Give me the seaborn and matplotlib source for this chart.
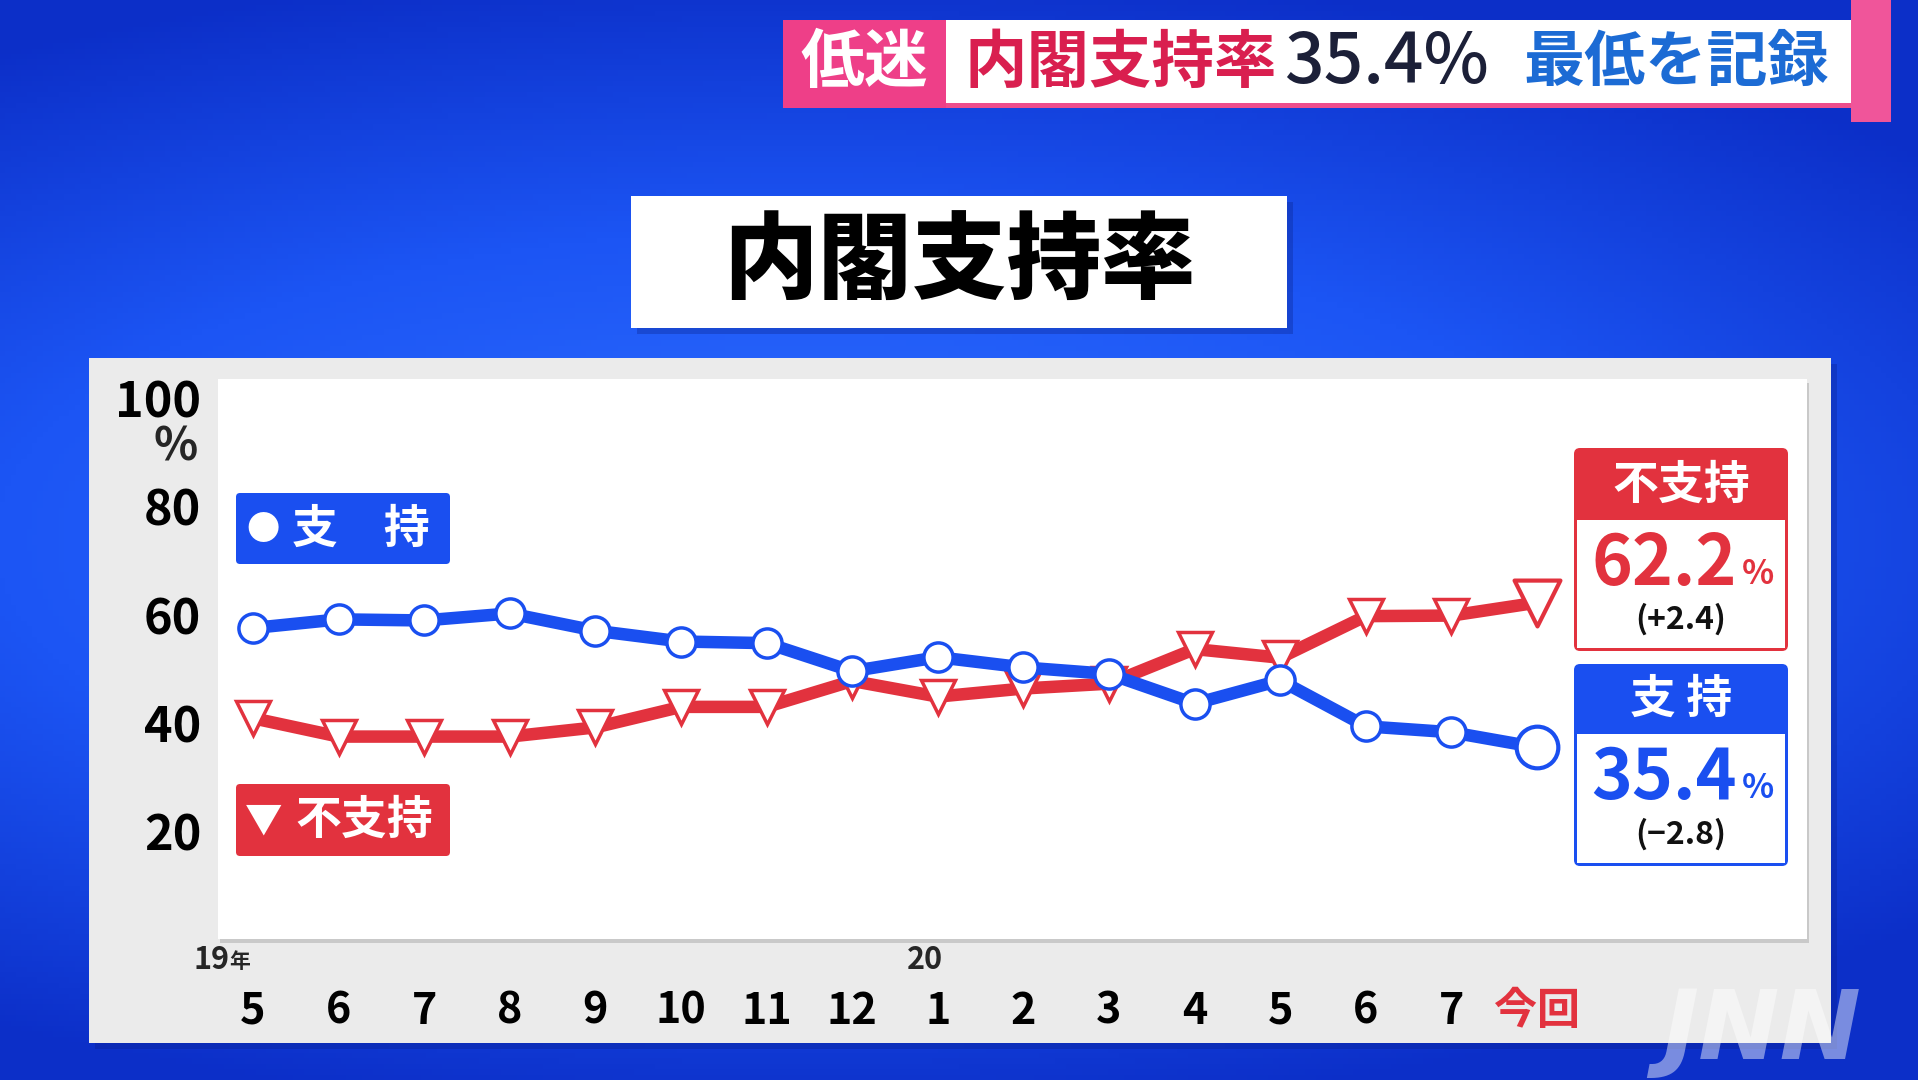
import numpy as np
import pandas as pd
import matplotlib
matplotlib.use('Agg')
import matplotlib.pyplot as plt
import seaborn as sns
from matplotlib.patches import Rectangle, FancyBboxPatch
from matplotlib.colors import LinearSegmentedColormap
from matplotlib.transforms import blended_transform_factory

# data: JNN 内閣支持率 (19年5月 -> 今回)
bulan = ['5', '6', '7', '8', '9', '10', '11', '12', '1', '2', '3', '4', '5', '6', '7', '今回']
shiji = [57.5, 59.1, 58.9, 60.2, 57.0, 55.0, 54.7, 49.5, 52.1, 50.2, 49.0, 43.5, 47.8, 39.3, 38.2, 35.4]
fushiji = [40.8, 37.4, 37.4, 37.4, 39.1, 42.9, 42.9, 47.7, 44.8, 46.3, 47.2, 53.6, 52.0, 59.7, 59.8, 62.2]
y_ticks = [20, 40, 60, 80, 100]

BIRU = '#1a4ff0'
MERAH = '#e2323e'

sns.set_theme(style='white')
plt.rcParams['font.family'] = ['Noto Sans CJK JP', 'DejaVu Sans']

W, H = 1918, 1080
fig = plt.figure(figsize=(W / 100, H / 100), dpi=100)


def kotak(x, y, w, h):
    # ubah koordinat piksel (dari kiri atas) ke koordinat figure
    return [x / W, 1 - (y + h) / H, w / W, h / H]


# ---------------- latar belakang biru ----------------
bg = fig.add_axes([0, 0, 1, 1], zorder=0)
yy, xx = np.mgrid[0:1:200j, 0:1:360j]
jarak = np.sqrt(((xx - 0.42) / 1.1) ** 2 + ((yy - 0.5) / 0.75) ** 2)
cmap_bg = LinearSegmentedColormap.from_list('bg', ['#2d6cff', '#1c55f4', '#0c2fc8'])
bg.imshow(jarak, cmap=cmap_bg, extent=[0, W, H, 0], aspect='auto', vmin=0.05, vmax=0.72)
bg.set_xlim(0, W)
bg.set_ylim(H, 0)
bg.axis('off')

# banner atas
bg.add_patch(Rectangle((946, 20), 907, 88, fc='white', ec='none'))
bg.add_patch(Rectangle((946, 103), 907, 5, fc='#ee4d8c', ec='none'))
bg.add_patch(Rectangle((783, 20), 163, 88, fc='#ee3f88', ec='none'))
bg.add_patch(Rectangle((1851, 0), 40, 122, fc='#f0559a', ec='none'))
bg.text(864, 63, '低迷', color='white', fontsize=46, fontweight='bold', ha='center', va='center')
bg.text(964, 63, '内閣支持率', color='#d91f4f', fontsize=45, fontweight='bold', ha='left', va='center')
bg.text(1284, 63, f'{shiji[-1]:.1f}%', color='#1c2038', fontsize=50, fontweight='medium', ha='left', va='center')
bg.text(1523, 63, '最低を記録', color='#1c6bd4', fontsize=44, fontweight='bold', ha='left', va='center')

# kotak judul
bg.add_patch(Rectangle((637, 202), 656, 132, fc='#0b2590', ec='none', alpha=0.35))
bg.add_patch(Rectangle((631, 196), 656, 132, fc='white', ec='none'))
bg.text(959, 264, '内閣支持率', color='black', fontsize=68, fontweight='heavy', ha='center', va='center')

# panel abu-abu
bg.add_patch(Rectangle((95, 364), 1742, 685, fc='#0a2090', ec='none', alpha=0.35))
bg.add_patch(Rectangle((89, 358), 1742, 685, fc='#ebebeb', ec='none'))
bg.add_patch(Rectangle((220, 383), 1589, 560, fc='#c9c9c9', ec='none'))

# ---------------- grafik garis ----------------
ax = fig.add_axes(kotak(218, 379, 1589, 559.6), zorder=1)
ax.set_facecolor('white')
df = pd.DataFrame({'idx': range(len(bulan)), '支持': shiji, '不支持': fushiji})
n = len(df)

sns.lineplot(data=df, x='idx', y='不支持', ax=ax, color=MERAH, lw=9, marker='v',
             markersize=24, markerfacecolor='white', markeredgecolor=MERAH,
             markeredgewidth=2.5, markevery=list(range(n - 1)), zorder=2)
sns.scatterplot(data=df.iloc[-1:], x='idx', y='不支持', ax=ax, marker='v', s=33 ** 2,
                color='white', edgecolor=MERAH, linewidth=3, zorder=3)
sns.lineplot(data=df, x='idx', y='支持', ax=ax, color=BIRU, lw=9, marker='o',
             markersize=21, markerfacecolor='white', markeredgecolor=BIRU,
             markeredgewidth=2.5, markevery=list(range(n - 1)), zorder=4)
sns.scatterplot(data=df.iloc[-1:], x='idx', y='支持', ax=ax, marker='o', s=30 ** 2,
                color='white', edgecolor=BIRU, linewidth=3, zorder=5)

ax.set_xlim(-0.409, 18.154)
ax.set_ylim(0, 103.6)
ax.set_xlabel('')
ax.set_ylabel('')
for s in ax.spines.values():
    s.set_visible(False)

ax.set_xticks(range(n))
ax.set_xticklabels(bulan, fontsize=31, fontweight='bold', color='black')
ax.get_xticklabels()[-1].set_color(MERAH)
ax.set_yticks(y_ticks)
ax.set_yticklabels([str(v) for v in y_ticks], fontsize=35, fontweight='bold', color='black')
ax.tick_params(axis='x', length=0, pad=36)
ax.tick_params(axis='y', length=0, pad=12)

tr = blended_transform_factory(ax.transAxes, ax.transData)
ax.text(-0.013, 91.0, '%', transform=tr, fontsize=33, fontweight='bold', ha='right', va='center')
ax.text(-0.28, -4.0, '19', fontsize=22, fontweight='bold', ha='right', va='center', clip_on=False)
ax.text(-0.28, -4.3, '年', fontsize=15, fontweight='bold', ha='left', va='center', clip_on=False)
ax.text(7.85, -4.0, '20', fontsize=22, fontweight='bold', ha='center', va='center', clip_on=False)

# ---------------- lapisan depan: legenda & kotak nilai ----------------
fg = fig.add_axes([0, 0, 1, 1], zorder=5)
fg.patch.set_alpha(0)
fg.set_xlim(0, W)
fg.set_ylim(H, 0)
fg.axis('off')

fg.add_patch(FancyBboxPatch((236, 493), 214, 71, boxstyle='round,pad=0,rounding_size=4', fc=BIRU, ec='none'))
fg.text(263, 530, '●', color='white', fontsize=24, fontweight='bold', ha='center', va='center')
fg.text(361, 530, '支　持', color='white', fontsize=33, fontweight='bold', ha='center', va='center')
fg.add_patch(FancyBboxPatch((236, 784), 214, 72, boxstyle='round,pad=0,rounding_size=4', fc=MERAH, ec='none'))
fg.text(264, 821, '▼', color='white', fontsize=27, fontweight='bold', ha='center', va='center')
fg.text(364, 821, '不支持', color='white', fontsize=33, fontweight='bold', ha='center', va='center')

# kotak 不支持
fg.add_patch(FancyBboxPatch((1574, 448), 214, 203, boxstyle='round,pad=0,rounding_size=6', fc=MERAH, ec='none'))
fg.add_patch(Rectangle((1577, 520), 208, 128, fc='white', ec='none'))
fg.text(1681, 486, '不支持', color='white', fontsize=33, fontweight='bold', ha='center', va='center')
fg.text(1737, 565, f'{fushiji[-1]:.1f}', color=MERAH, fontsize=50, fontweight='bold', ha='right', va='center')
fg.text(1742, 575, '%', color=MERAH, fontsize=24, fontweight='bold', ha='left', va='center')
fg.text(1681, 619, f'(+{fushiji[-1] - fushiji[-2]:.1f})', color='#111111', fontsize=23, fontweight='bold', ha='center', va='center')

# kotak 支持
fg.add_patch(FancyBboxPatch((1574, 664), 214, 202, boxstyle='round,pad=0,rounding_size=6', fc=BIRU, ec='none'))
fg.add_patch(Rectangle((1577, 734), 208, 129, fc='white', ec='none'))
fg.text(1681, 700, '支 持', color='white', fontsize=33, fontweight='bold', ha='center', va='center')
fg.text(1737, 779, f'{shiji[-1]:.1f}', color=BIRU, fontsize=50, fontweight='bold', ha='right', va='center')
fg.text(1742, 789, '%', color=BIRU, fontsize=24, fontweight='bold', ha='left', va='center')
fg.text(1681, 834, f'(−{shiji[-2] - shiji[-1]:.1f})', color='#111111', fontsize=23, fontweight='bold', ha='center', va='center')

# logo JNN
fg.text(1762, 1032, 'JNN', family='DejaVu Sans', style='italic', fontweight='bold', fontsize=70,
        color='white', alpha=0.45, ha='center', va='center')

plt.savefig('out.png', dpi=100)
plt.close()
